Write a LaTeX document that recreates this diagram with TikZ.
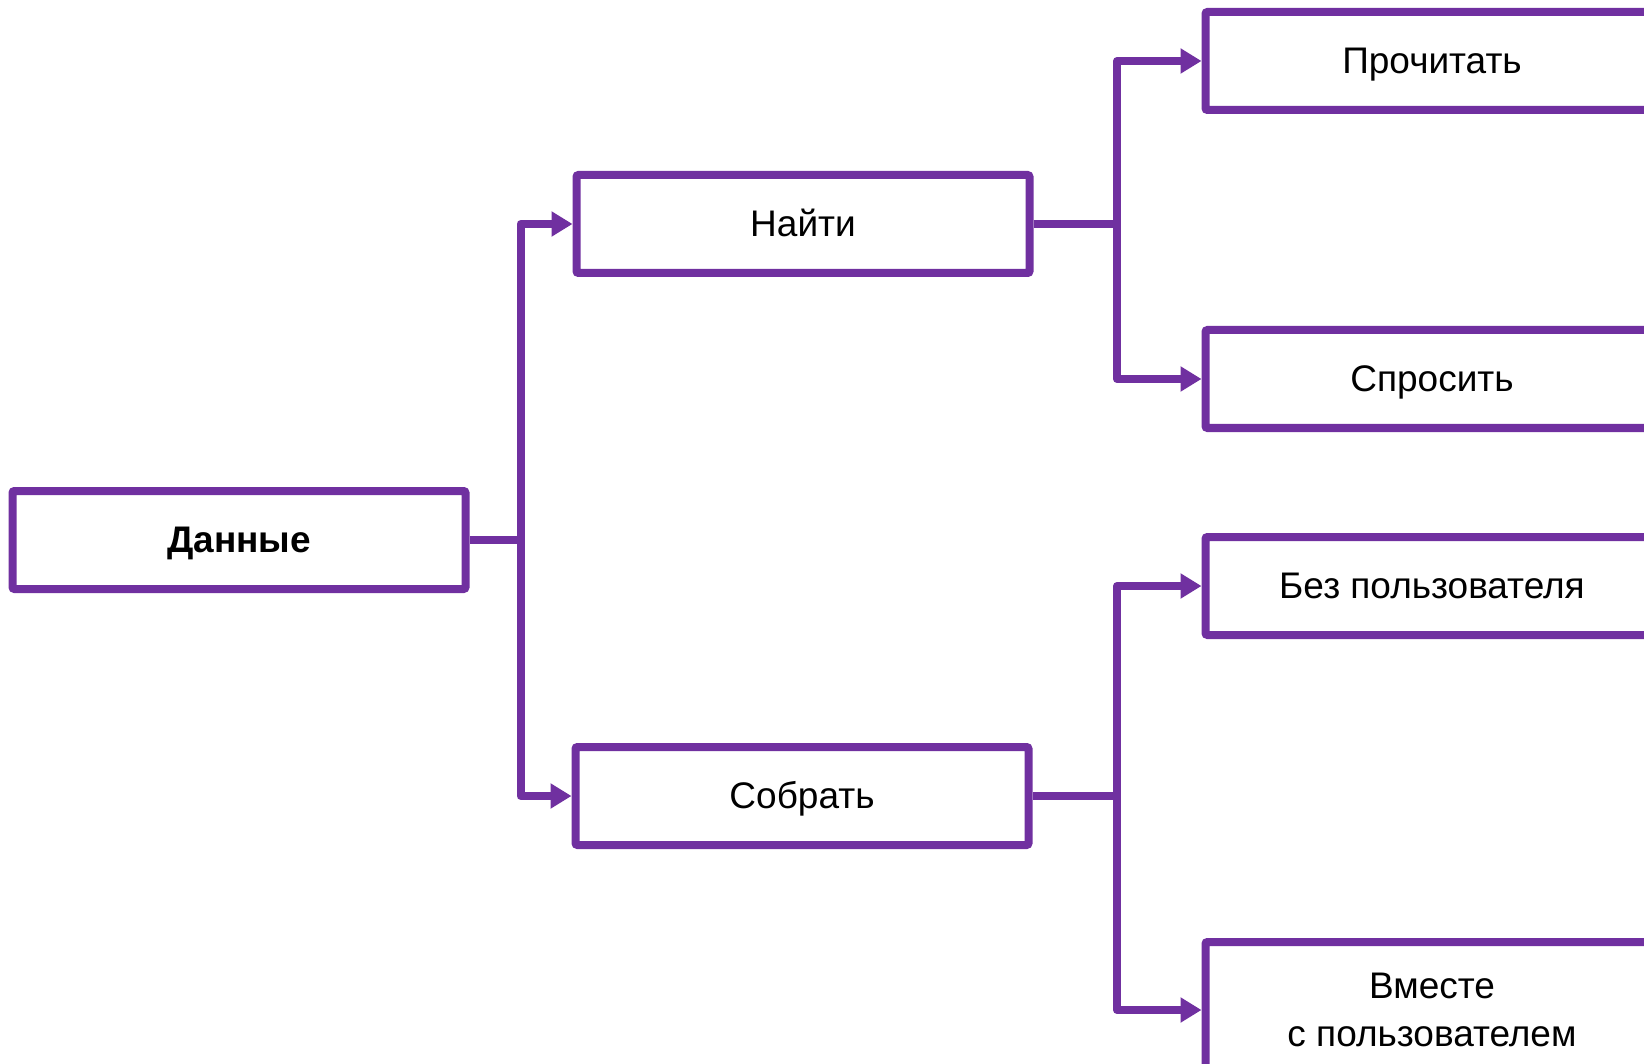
\documentclass[tikz,border=0pt]{standalone}
\usepackage{fontspec}
\setmainfont{Liberation Sans}
\usetikzlibrary{arrows.meta}
\definecolor{boxpurple}{HTML}{7030A0}
\tikzset{>={Triangle[length=21pt,width=24pt]}}

\begin{document}
\begin{tikzpicture}[x=1pt,y=-1pt,
    box/.style={draw=boxpurple,line width=8pt,rounded corners=2pt,
      minimum width=453pt,minimum height=98pt,
      text height=33.5pt,text depth=7.8pt,
      font=\fontsize{37}{48}\selectfont},
    link/.style={draw=boxpurple,line width=8pt,line join=round,->}]
      \useasboundingbox (0,0) rectangle (1644,1064);
      \clip (0,0) rectangle (1644,1064);

      \node [box,font=\fontsize{37}{48}\selectfont\bfseries] (data) at (239,540) {Данные};

      \node [box] (find) at (803,224) {Найти};
      \node [box] (collect) at (802,796) {Собрать};

      \node [box] (read) at (1432,61) {Прочитать};
      \node [box] (ask) at (1432,379) {Спросить};
      \node [box] (nouser) at (1432,586) {Без пользователя};
      \node [box,minimum height=136pt,align=center,text height={},text depth={}]
        (withuser) at (1432,1010) {Вместе\\с пользователем};

      \coordinate (j0) at (520.5,540);
      \coordinate (j1) at (1117,224);
      \coordinate (j2) at (1117,796);

      \draw [link] (data.east) -- (j0) |- (find.west);
      \draw [link] (j0) |- (collect.west);

      \draw [link] (find.east) -- (j1) |- (read.west);
      \draw [link] (j1) |- (ask.west);

      \draw [link] (collect.east) -- (j2) |- (nouser.west);
      \draw [link] (j2) |- (withuser.west);
\end{tikzpicture}
\end{document}
